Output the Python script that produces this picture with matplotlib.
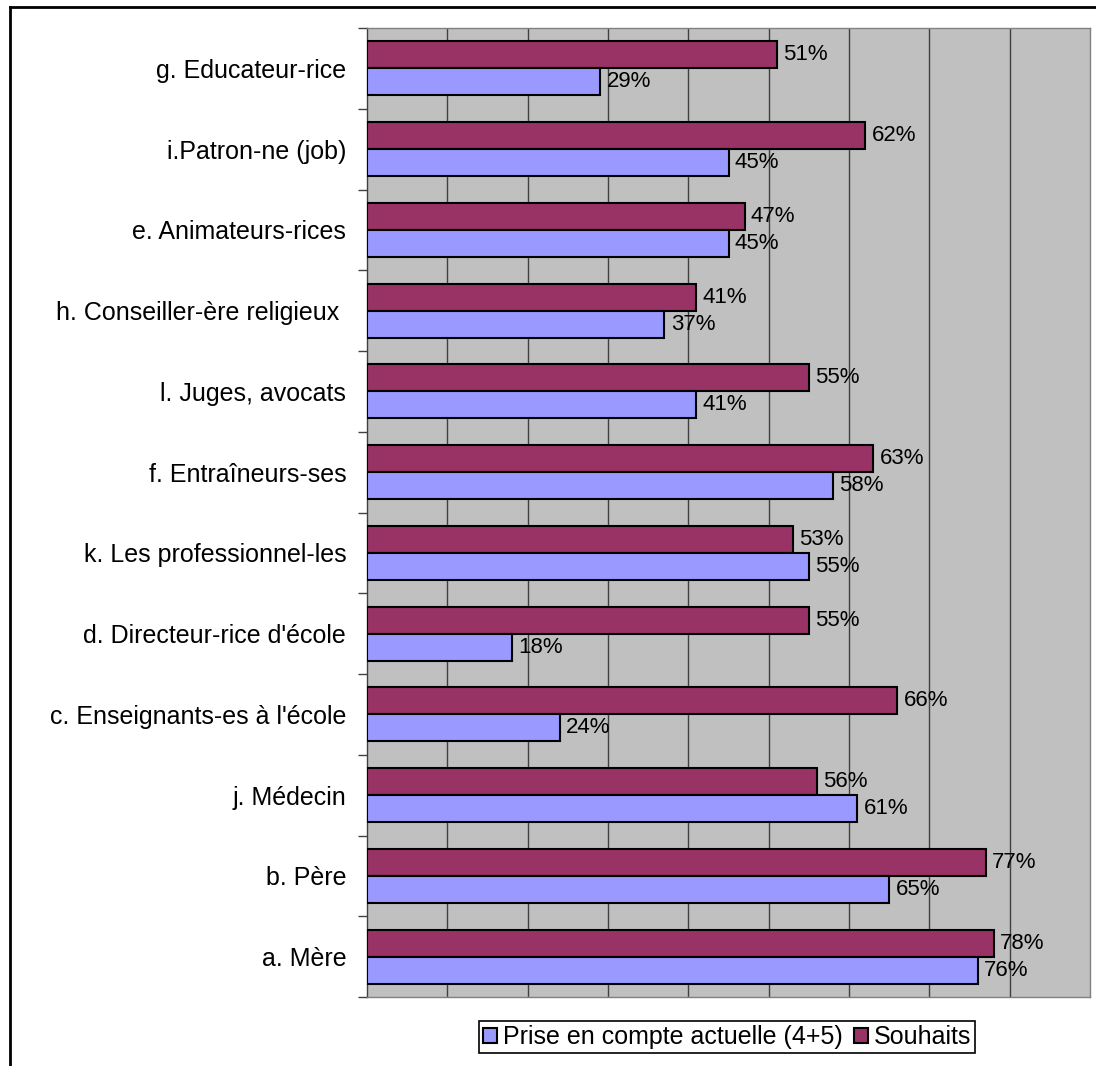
import matplotlib
matplotlib.use("Agg")
import matplotlib.pyplot as plt
import numpy as np
from matplotlib.lines import Line2D
from matplotlib.patches import Patch

plt.rcParams['font.family'] = ['Liberation Sans', 'DejaVu Sans']

categories = ["g. Educateur-rice", "i.Patron-ne (job)", "e. Animateurs-rices",
              "h. Conseiller-ère religieux ", "l. Juges, avocats", "f. Entraîneurs-ses",
              "k. Les professionnel-les", "d. Directeur-rice d'école",
              "c. Enseignants-es à l'école", "j. Médecin", "b. Père", "a. Mère"]
prise = [29, 45, 45, 37, 41, 58, 55, 18, 24, 61, 65, 76]
souhaits = [51, 62, 47, 41, 55, 63, 53, 55, 66, 56, 77, 78]
series_names = ["Prise en compte actuelle (4+5)", "Souhaits"]

W, H = 1096, 1066
fig = plt.figure(figsize=(W/100, H/100), dpi=100)
ax = fig.add_axes([367/W, 1-997/H, (1090-367)/W, (997-28)/H])
ax.set_facecolor('#C0C0C0')

y = np.arange(len(categories))
h = 0.335
c_prise = '#9999FF'
c_souh = '#993366'
ax.barh(y - h/2, [v/100 for v in souhaits], height=h, color=c_souh,
        edgecolor='black', linewidth=1.5, zorder=3)
ax.barh(y + h/2, [v/100 for v in prise], height=h, color=c_prise,
        edgecolor='black', linewidth=1.5, zorder=3)

for yi, v in zip(y, souhaits):
    ax.text(v/100 + 0.008, yi - h/2, f"{v}%", va='center', ha='left', fontsize=16, zorder=4)
for yi, v in zip(y, prise):
    ax.text(v/100 + 0.008, yi + h/2, f"{v}%", va='center', ha='left', fontsize=16, zorder=4)

ax.set_xlim(0, 0.9)
ax.set_ylim(len(categories) - 0.5, -0.5)
ax.set_xticks(np.arange(0.1, 0.9, 0.1))
ax.set_xticklabels([])
ax.tick_params(axis='x', length=0)
ax.grid(axis='x', color='#404040', linewidth=1.0, zorder=1)
ax.set_yticks(y)
ax.set_yticklabels(categories, fontsize=18)
ax.tick_params(axis='y', which='major', length=0, pad=15)
ax.set_yticks(np.arange(-0.5, len(categories), 1.0), minor=True)
ax.tick_params(axis='y', which='minor', length=6.5, width=1, color='#404040')

for s in ['top', 'right', 'bottom']:
    ax.spines[s].set_color('#808080')
    ax.spines[s].set_linewidth(1)
ax.spines['left'].set_color('#404040')
ax.spines['left'].set_linewidth(1)

handles = [Patch(facecolor=c_prise, edgecolor='black', linewidth=1.5),
           Patch(facecolor=c_souh, edgecolor='black', linewidth=1.5)]
leg = fig.legend(handles, series_names, loc='center',
                 bbox_to_anchor=(727/W, 1-1037/H), ncol=2, fontsize=18,
                 frameon=True, fancybox=False, edgecolor='black', framealpha=1,
                 handlelength=0.55, handleheight=0.55, handletextpad=0.25,
                 columnspacing=0.45, borderpad=0.15, borderaxespad=0)
leg.get_frame().set_linewidth(1.2)

# outer frame
fig.add_artist(Line2D([10/W, 10/W], [0, 1-7/H], color='black', linewidth=2, transform=fig.transFigure))
fig.add_artist(Line2D([10/W, 1], [1-7/H, 1-7/H], color='black', linewidth=2, transform=fig.transFigure))

fig.savefig("out.png", dpi=100)
